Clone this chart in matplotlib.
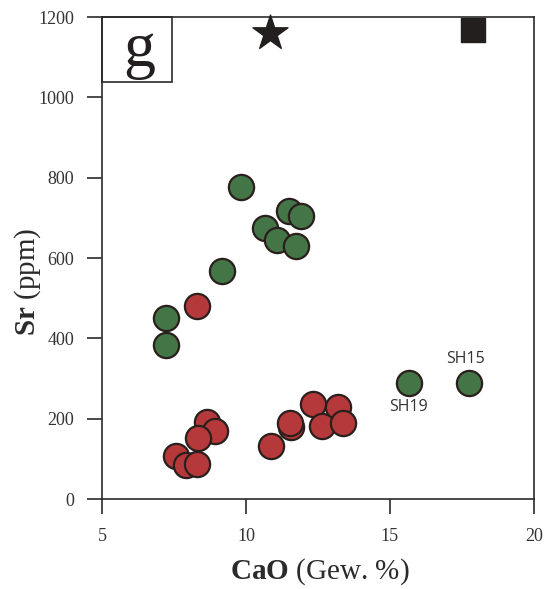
import matplotlib
matplotlib.use("Agg")
import matplotlib.pyplot as plt
from matplotlib.patches import Rectangle

plt.rcParams['font.family'] = ['Liberation Serif', 'DejaVu Serif']
plt.rcParams['mathtext.fontset'] = 'custom'
plt.rcParams['mathtext.rm'] = 'Liberation Serif'
plt.rcParams['mathtext.bf'] = 'Liberation Serif:bold'

# green samples
green_cao = [9.83, 11.49, 11.91, 10.66, 11.08, 11.75, 9.18, 7.22, 7.22, 15.65, 17.73]
green_sr = [777, 718, 704, 675, 645, 630, 568, 451, 383, 288, 288]

# red samples
red_cao = [8.29, 8.63, 8.92, 8.35, 7.56, 7.91, 8.29, 10.86, 11.56, 11.53,
           12.33, 13.21, 12.63, 13.38]
red_sr = [480, 192, 170, 153, 108, 85, 86, 133, 180, 188, 236, 230, 182, 188]

labels = ["SH19", "SH15"]
label_cao = [15.65, 17.73]
label_sr = [288, 288]

star_cao, star_sr = 10.83, 1160
square_cao, square_sr = 17.87, 1168

xticks = [5, 10, 15, 20]
yticks = [0, 200, 400, 600, 800, 1000, 1200]

fig = plt.figure(figsize=(5.44, 5.89), dpi=100)
ax = fig.add_axes([0.1875, 0.1528, 0.794, 0.8183])

edge = '#2a1f1c'
ax.scatter(green_cao, green_sr, s=330, c='#437546', edgecolors=edge, linewidths=1.6, zorder=3)
ax.scatter(red_cao, red_sr, s=330, c='#b5393a', edgecolors=edge, linewidths=1.6, zorder=3)

ax.scatter([star_cao], [star_sr], s=700, marker='*', c='#231f1f', clip_on=False, zorder=4)
ax.scatter([square_cao], [square_sr], s=290, marker='s', c='#231f1f', clip_on=False, zorder=4)

# sample labels
ax.text(label_cao[0], label_sr[0] - 38, labels[0], ha='center', va='top',
        fontsize=11.5, family='Open Sans', color='#333333')
ax.text(label_cao[1] - 0.1, label_sr[1] + 40, labels[1], ha='center', va='bottom',
        fontsize=11.5, family='Open Sans', color='#333333')

ax.set_xlim(5, 20)
ax.set_ylim(0, 1200)
ax.set_xticks(xticks)
ax.set_yticks(yticks)
ax.tick_params(direction='out', length=11, width=1.2, color='#2b2b2b',
               labelsize=13, labelcolor='#333333')
ax.tick_params(axis='x', pad=10)
ax.tick_params(axis='y', pad=9)
for sp in ax.spines.values():
    sp.set_linewidth(1.2)
    sp.set_color('#2b2b2b')

ax.set_xlabel(r'$\mathbf{CaO}$ (Gew. %)', fontsize=21, color='#2b2b2b')
ax.set_ylabel(r'$\mathbf{Sr}$ (ppm)', fontsize=21, color='#2b2b2b')
ax.xaxis.set_label_coords(0.505, -0.12)
ax.yaxis.set_label_coords(-0.137, 0.45)

# panel letter box
ax.add_patch(Rectangle((0, 1), 0.162, -0.135, transform=ax.transAxes, fill=False,
                       edgecolor='#2b2b2b', linewidth=1.2, clip_on=False, zorder=5))
ax.text(0.087, 0.93, 'g', transform=ax.transAxes, ha='center', va='center',
        fontsize=46, color='#231f1f')

fig.savefig('out.png', dpi=100)
